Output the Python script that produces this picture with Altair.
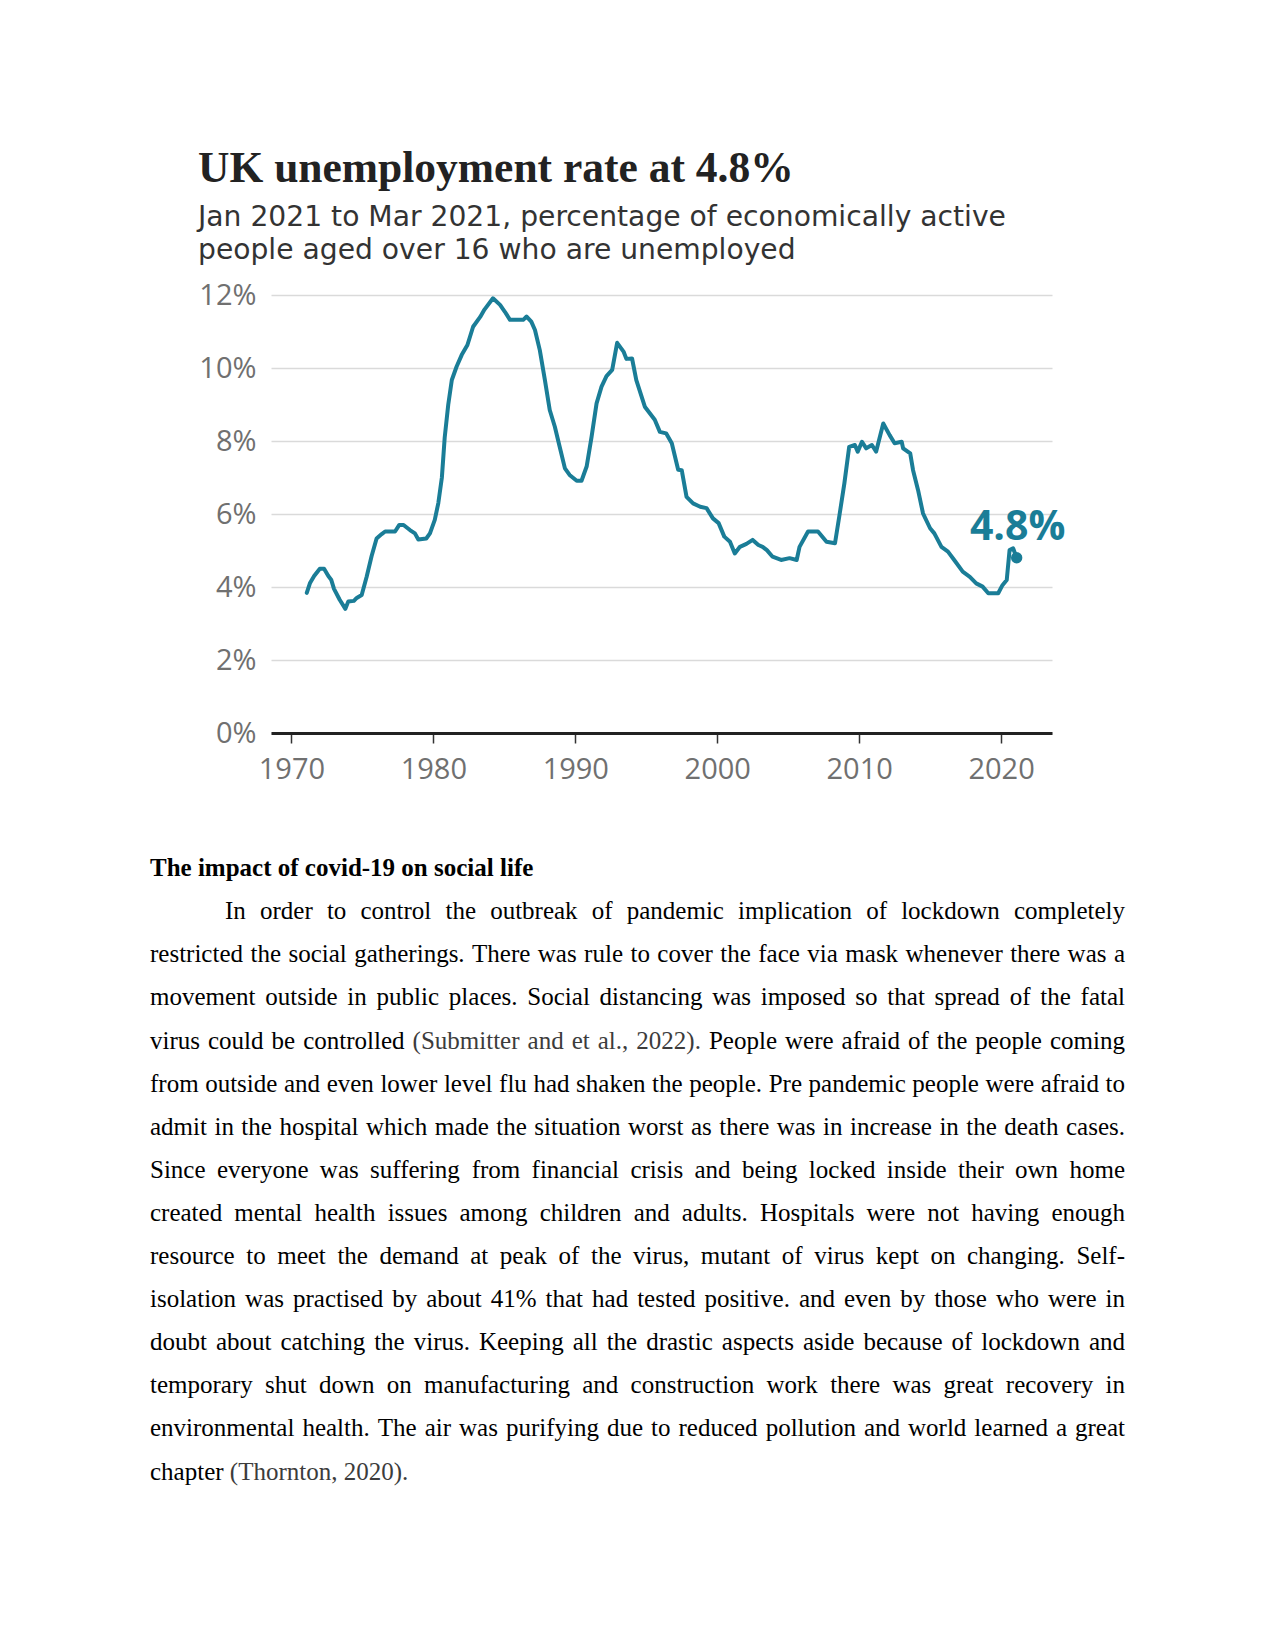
import altair as alt
import pandas as pd

# ---------------- chart data ----------------
years = [1971.08, 1971.3, 1971.6, 1972.0, 1972.3, 1972.6, 1972.8, 1973.0, 1973.4, 1973.8,
         1974.0, 1974.4, 1974.6, 1974.95, 1975.3, 1975.65, 1976.0, 1976.36, 1976.6, 1977.3,
         1977.6, 1977.9, 1978.35, 1978.7, 1978.94, 1979.5, 1979.76, 1980.1, 1980.35, 1980.6,
         1980.8, 1981.05, 1981.3, 1981.64, 1982.0, 1982.4, 1982.8, 1983.3, 1983.6, 1984.2,
         1984.7, 1985.04, 1985.4, 1986.33, 1986.57, 1986.9, 1987.16, 1987.5, 1987.86, 1988.2,
         1988.56, 1988.9, 1989.27, 1989.6, 1990.1, 1990.44, 1990.8, 1991.15, 1991.5, 1991.85,
         1992.2, 1992.6, 1992.95, 1993.4, 1993.6, 1994.0, 1994.3, 1994.9, 1995.6, 1995.96,
         1996.4, 1996.8, 1997.25, 1997.5, 1997.84, 1998.3, 1998.8, 1999.25, 1999.7, 2000.1,
         2000.5, 2000.9, 2001.24, 2001.6, 2002.06, 2002.5, 2002.9, 2003.2, 2003.5, 2003.9,
         2004.5, 2005.1, 2005.6, 2005.8, 2006.4, 2007.1, 2007.7, 2008.3, 2008.6, 2008.96,
         2009.3, 2009.7, 2009.9, 2010.2, 2010.5, 2010.9, 2011.2, 2011.7, 2012.15, 2012.5,
         2013.0, 2013.1, 2013.6, 2013.8, 2014.15, 2014.5, 2015.0, 2015.3, 2015.8, 2016.26,
         2016.7, 2017.3, 2017.8, 2018.25, 2018.7, 2019.1, 2019.8, 2020.1, 2020.4, 2020.6,
         2020.85, 2021.1]
rates = [3.84, 4.1, 4.3, 4.5, 4.5, 4.3, 4.2, 3.95, 3.65, 3.4,
         3.6, 3.62, 3.7, 3.78, 4.28, 4.85, 5.33, 5.45, 5.52, 5.52,
         5.7, 5.7, 5.56, 5.47, 5.3, 5.33, 5.47, 5.84, 6.3, 7.0,
         8.1, 9.0, 9.67, 10.04, 10.36, 10.63, 11.13, 11.4, 11.6, 11.91,
         11.73, 11.54, 11.32, 11.32, 11.41, 11.27, 11.04, 10.49, 9.67, 8.85,
         8.39, 7.84, 7.25, 7.07, 6.91, 6.91, 7.3, 8.12, 9.03, 9.49,
         9.78, 9.95, 10.69, 10.45, 10.25, 10.26, 9.67, 8.94, 8.58, 8.25,
         8.21, 7.94, 7.21, 7.2, 6.47, 6.29, 6.2, 6.16, 5.88, 5.75,
         5.38, 5.24, 4.92, 5.1, 5.18, 5.29, 5.15, 5.1, 5.01, 4.83,
         4.74, 4.79, 4.74, 5.1, 5.52, 5.52, 5.24, 5.2, 5.93, 6.84,
         7.84, 7.89, 7.71, 7.98, 7.8, 7.89, 7.71, 8.48, 8.16, 7.94,
         7.98, 7.8, 7.66, 7.2, 6.66, 6.02, 5.61, 5.47, 5.1, 4.97,
         4.74, 4.42, 4.28, 4.1, 4.01, 3.83, 3.83, 4.05, 4.19, 5.01,
         5.06, 4.8]
latest_year = [2021.1]
latest_rate = [4.8]
latest_label = ["4.8%"]
x_ticks = [1970, 1980, 1990, 2000, 2010, 2020]
y_ticks = [0, 2, 4, 6, 8, 10, 12]

title_text = ["UK unemployment rate at 4.8%"]
subtitle_lines = ["Jan 2021 to Mar 2021, percentage of economically active",
                  "people aged over 16 who are unemployed"]
heading_text = ["The impact of covid-19 on social life"]
body_lines = [
    "In order to control the outbreak of pandemic implication of lockdown completely",
    "restricted the social gatherings. There was rule to cover the face via mask whenever there was a",
    "movement outside in public places. Social distancing was imposed so that spread of the fatal",
    "virus could be controlled (Submitter and et al., 2022). People were afraid of the people coming",
    "from outside and even lower level flu had shaken the people. Pre pandemic people were afraid to",
    "admit in the hospital which made the situation worst as there was in increase in the death cases.",
    "Since everyone was suffering from financial crisis and being locked inside their own home",
    "created mental health issues among children and adults. Hospitals were not having enough",
    "resource to meet the demand at peak of the virus, mutant of virus kept on changing. Self-",
    "isolation was practised by about 41% that had tested positive. and even by those who were in",
    "doubt about catching the virus. Keeping all the drastic aspects aside because of lockdown and",
    "temporary shut down on manufacturing and construction work there was great recovery in",
    "environmental health. The air was purifying due to reduced pollution and world learned a great",
    "chapter (Thornton, 2020).",
]

# ---------------- styles / layout ----------------
TEAL = "#1a7d97"
PLOT_W, PLOT_H = 781, 438
ORIGIN_X, ORIGIN_Y = 271, 295          # page position of the plot area's top-left
BODY_SIZE = 25
BODY_LEFT, BODY_RIGHT, INDENT = 150, 1125, 75
BODY_FIRST_BASE, BODY_STEP = 919.2, 43.1

# Times / Liberation Serif advance widths (1/1000 em)
TIMES = {' ': 250, '!': 333, '%': 833, '(': 333, ')': 333, ',': 250, '-': 333, '.': 250,
         ':': 278, ';': 278, '?': 444,
         'A': 722, 'B': 667, 'C': 667, 'D': 722, 'E': 611, 'F': 556, 'G': 722, 'H': 722,
         'I': 333, 'J': 389, 'K': 722, 'L': 611, 'M': 889, 'N': 722, 'O': 722, 'P': 556,
         'Q': 722, 'R': 667, 'S': 556, 'T': 611, 'U': 722, 'V': 722, 'W': 944, 'X': 722,
         'Y': 722, 'Z': 611,
         'a': 444, 'b': 500, 'c': 444, 'd': 500, 'e': 444, 'f': 333, 'g': 500, 'h': 500,
         'i': 278, 'j': 278, 'k': 500, 'l': 278, 'm': 778, 'n': 500, 'o': 500, 'p': 500,
         'q': 500, 'r': 333, 's': 389, 't': 278, 'u': 500, 'v': 500, 'w': 722, 'x': 500,
         'y': 500, 'z': 444}


def text_width(s, size):
    return sum(TIMES.get(c, 500) for c in s) * size / 1000.0


# ---------------- tables ----------------
series = pd.DataFrame({"year": years, "rate": rates})
latest = pd.DataFrame({"year": latest_year, "rate": latest_rate, "label": latest_label})

title_df = pd.DataFrame({"t": title_text, "px": [198 - ORIGIN_X], "py": [182 - ORIGIN_Y]})
sub_df = pd.DataFrame({"t": [subtitle_lines], "px": [198 - ORIGIN_X], "py": [226 - ORIGIN_Y]})
head_df = pd.DataFrame({"t": heading_text, "px": [BODY_LEFT - ORIGIN_X], "py": [876 - ORIGIN_Y]})

word_rows = []
in_cite = False
for i, line in enumerate(body_lines):
    base = BODY_FIRST_BASE + BODY_STEP * i - ORIGIN_Y
    words = line.split(" ")
    start = BODY_LEFT + (INDENT if i == 0 else 0)
    last_line = i == len(body_lines) - 1
    widths = [text_width(w, BODY_SIZE) for w in words]
    if last_line or len(words) == 1:
        gap = text_width(" ", BODY_SIZE)
    else:
        gap = (BODY_RIGHT - start - sum(widths)) / (len(words) - 1)
    x = start
    for j, (w, wd) in enumerate(zip(words, widths)):
        if w.startswith("("):
            in_cite = True
        colour = "#3c3c3c" if in_cite else "#000000"
        if ")" in w:
            in_cite = False
        right_end = (not last_line) and j == len(words) - 1
        word_rows.append({"w": w,
                          "px": (BODY_RIGHT if right_end else x) - ORIGIN_X,
                          "py": base,
                          "side": "right" if right_end else "left",
                          "c": colour})
        x += wd + gap
words_df = pd.DataFrame(word_rows)

# ---------------- chart ----------------
x_enc = alt.X("year:Q",
              scale=alt.Scale(domain=[1968.56, 2023.59], nice=False, zero=False),
              axis=alt.Axis(values=x_ticks, format="d", title=None, grid=False,
                            domainColor="#222222", domainWidth=3,
                            tickColor="#333333", tickWidth=1.5, tickSize=10,
                            labelFont="Open Sans", labelFontSize=29, labelColor="#707070",
                            labelPadding=12, labelFlush=False))
y_enc = alt.Y("rate:Q",
              scale=alt.Scale(domain=[0, 12], nice=False),
              axis=alt.Axis(values=y_ticks, labelExpr="datum.value + '%'", title=None,
                            domain=False, ticks=False, grid=True,
                            gridColor="#dadada", gridWidth=1.5,
                            labelFont="Open Sans", labelFontSize=29, labelColor="#707070",
                            labelPadding=15))

line = alt.Chart(series).mark_line(color=TEAL, strokeWidth=4, strokeJoin="round",
                                   strokeCap="round").encode(x=x_enc, y=y_enc)
dot = alt.Chart(latest).mark_point(filled=True, size=130, color=TEAL, opacity=1).encode(
    x="year:Q", y="rate:Q")
lab = alt.Chart(latest).mark_text(font="Open Sans", fontWeight="bold", fontSize=41,
                                  color=TEAL, align="center", baseline="alphabetic",
                                  dx=1, dy=-18).encode(x="year:Q", y="rate:Q", text="label:N")
main = alt.layer(line, dot, lab)


def px_enc():
    return dict(x=alt.X("px:Q", scale=None, axis=None),
                y=alt.Y("py:Q", scale=None, axis=None))


title_layer = alt.Chart(title_df).mark_text(
    align="left", baseline="alphabetic", font="Liberation Serif", fontWeight="bold",
    fontSize=43.5, color="#222222").encode(text="t:N", **px_enc())
sub_layer = alt.Chart(sub_df).mark_text(
    align="left", baseline="alphabetic", font="DejaVu Sans", fontSize=28.2, lineHeight=33,
    color="#333333").encode(text="t", **px_enc())
head_layer = alt.Chart(head_df).mark_text(
    align="left", baseline="alphabetic", font="Liberation Serif", fontWeight="bold",
    fontSize=BODY_SIZE, color="#000000").encode(text="t:N", **px_enc())
words_left = alt.Chart(words_df).transform_filter("datum.side == 'left'").mark_text(
    align="left", baseline="alphabetic", font="Liberation Serif",
    fontSize=BODY_SIZE).encode(text="w:N", color=alt.Color("c:N", scale=None), **px_enc())
words_right = alt.Chart(words_df).transform_filter("datum.side == 'right'").mark_text(
    align="right", baseline="alphabetic", font="Liberation Serif",
    fontSize=BODY_SIZE).encode(text="w:N", color=alt.Color("c:N", scale=None), **px_enc())

chart = alt.layer(main, title_layer, sub_layer, head_layer, words_left, words_right).resolve_scale(
    x="independent", y="independent"
).properties(
    width=PLOT_W, height=PLOT_H,
    autosize=alt.AutoSizeParams(type="none"),
    padding={"left": ORIGIN_X - 8, "top": ORIGIN_Y - 8, "right": 200, "bottom": 770},
    background="white",
).configure_view(stroke=None)

chart.save("out.html", embed_options={"renderer": "svg", "actions": False})
